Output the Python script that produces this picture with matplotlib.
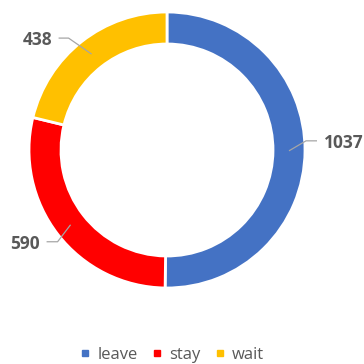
import numpy as np
import matplotlib
matplotlib.use("Agg")
import matplotlib.pyplot as plt
from matplotlib.lines import Line2D

categories = ["leave", "stay", "wait"]
values = [1037, 590, 438]
colors = ["#4472C4", "#FF0000", "#FFC000"]

W = H = 364
fig = plt.figure(figsize=(3.64, 3.64), dpi=100)
ax = fig.add_axes([0, 0, 1, 1])

cx, cy = 167, H - 150
R, ring = 138, 32

ax.pie(values, colors=colors, startangle=90, counterclock=False,
       radius=R, center=(cx, cy), frame=True,
       wedgeprops=dict(width=ring, edgecolor="white", linewidth=2))
ax.set_xlim(0, W)
ax.set_ylim(0, H)
ax.set_aspect("equal")
ax.axis("off")

# leader-line layout per slice: (elbow dx, elbow dy, horizontal run, text gap)
leaders = {
    "leave": (17, 10, 11, 7),
    "stay": (-13, -17, -11, -7),
    "wait": (-23, 16, -10, -6),
}
text_col = "#595959"
line_col = "#A6A6A6"
total = sum(values)
cum = 0
for cat, v in zip(categories, values):
    mid = 90 - (cum + v / 2) / total * 360
    cum += v
    r = R - ring / 2
    x0 = cx + r * np.cos(np.radians(mid))
    y0 = cy + r * np.sin(np.radians(mid))
    dx, dy, run, gap = leaders[cat]
    x1, y1 = x0 + dx, y0 + dy
    x2 = x1 + run
    ax.plot([x0, x1, x2], [y0, y1, y1], color=line_col, lw=0.9, solid_capstyle="butt")
    ha = "left" if run > 0 else "right"
    ax.text(x2 + gap, y1 - 2, str(v), ha=ha, va="center", fontsize=12.5,
            fontweight="bold", color=text_col, family="Open Sans")

handles = [Line2D([], [], marker="s", linestyle="", markersize=5, color=c)
           for c in colors]
ax.legend(handles, categories, loc="center", bbox_to_anchor=(172 / W, 9 / H),
          bbox_transform=fig.transFigure, ncol=3, frameon=False,
          handlelength=0.6, handletextpad=0.45, columnspacing=0.85,
          borderpad=0.1,
          prop=dict(family="Open Sans", size=12), labelcolor=text_col)

fig.savefig("out.png", dpi=100)
